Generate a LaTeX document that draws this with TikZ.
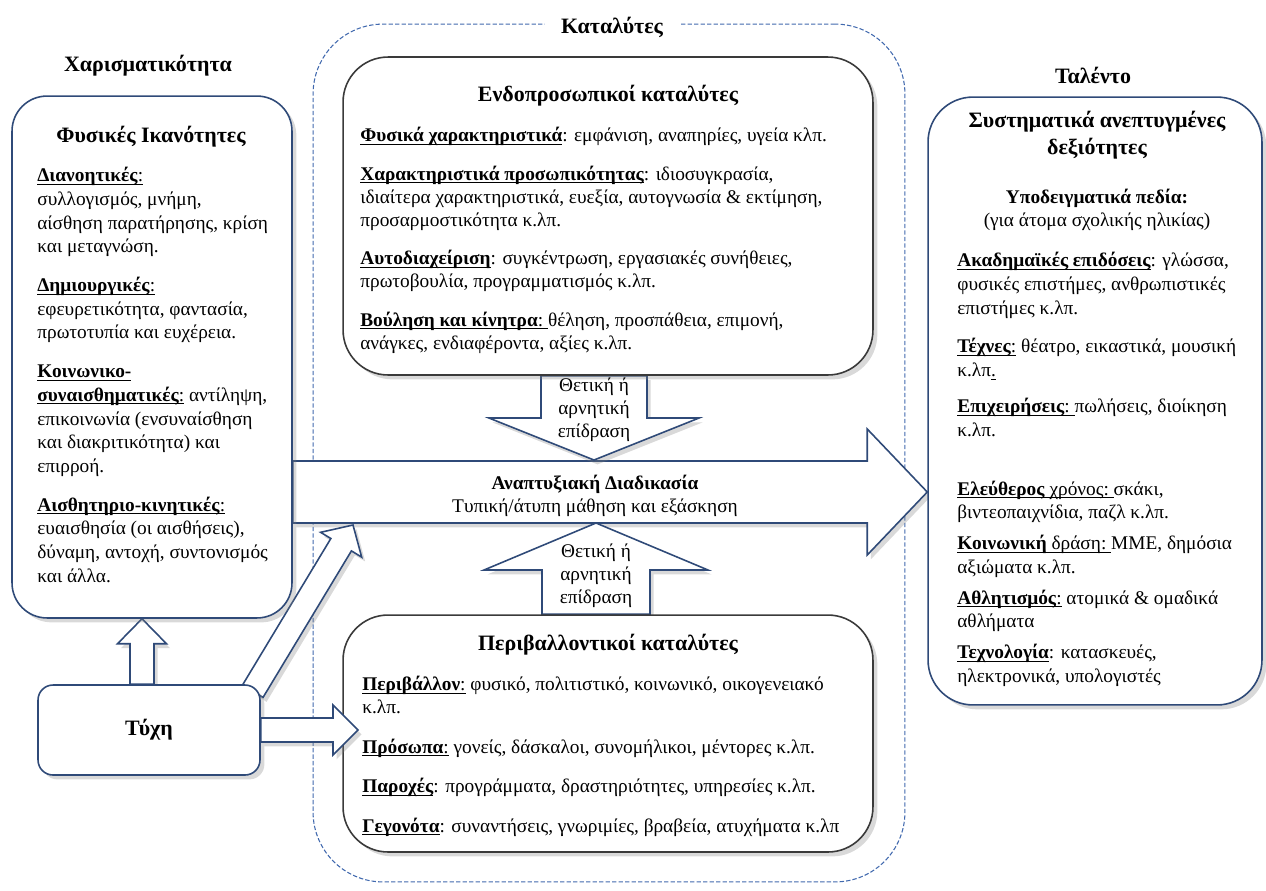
\documentclass[tikz,border=0pt]{standalone}
\usepackage{fontspec}
\setmainfont{Liberation Serif}
\usetikzlibrary{calc,shadows}

\definecolor{boxblue}{HTML}{2F4A78}
\definecolor{dashblue}{HTML}{4169AE}
\definecolor{innerline}{HTML}{3A3A3A}

% underline that goes through descenders, as in the source
\newsavebox{\undlbox}
\newcommand{\undl}[1]{\sbox{\undlbox}{#1}\rlap{\rule[-1.7pt]{\wd\undlbox}{0.5pt}}\usebox{\undlbox}}

\pgfdeclarelayer{back}
\pgfdeclarelayer{arrowlayer}
\pgfsetlayers{back,arrowlayer,main}

% wide outlined arrow: #1 start, #2 tip, #3 half shaft, #4 half head, #5 head length
\newcommand{\blockarrow}[5]{%
  \coordinate (ba) at ($(#2)!#5!(#1)$);
  \draw[blockarr] ($(#1)!#3!90:(#2)$) -- ($(ba)!#3!90:(#2)$) -- ($(ba)!#4!90:(#2)$)
    -- (#2) -- ($(ba)!#4!-90:(#2)$) -- ($(ba)!#3!-90:(#2)$)
    -- ($(#1)!#3!-90:(#2)$) -- cycle;}

\begin{document}
\begin{tikzpicture}[x=0.02cm, y=-0.02cm,
    roundbox/.style={draw=boxblue, line width=0.9pt, fill=white, rounded corners=#1,
      drop shadow={shadow xshift=2.5pt, shadow yshift=-2.5pt, opacity=0.3}},
    roundbox/.default=0.7cm,
    innerbox/.style={roundbox=0.9cm, draw=innerline},
    blockarr/.style={draw=boxblue, line width=0.9pt, fill=white,
      drop shadow={shadow xshift=2pt, shadow yshift=-2.5pt, opacity=0.3}},
    heading/.style={font=\fontsize{12.5}{15}\selectfont\bfseries, align=center, inner sep=0pt},
    body/.style={font=\fontsize{11}{13.5}\selectfont, align=left, inner sep=0pt, anchor=north west},
    effect/.style={font=\fontsize{11}{13}\selectfont, align=center, inner sep=0pt}]

  \useasboundingbox (0,0) rectangle (1266,890);

  % catalysts frame
  \begin{pgfonlayer}{back}
    \node[draw=dashblue, dash pattern=on 2.5pt off 1.2pt, line width=0.6pt, rounded corners=1.4cm,
          minimum width=11.84cm, minimum height=17.16cm] (catalysts) at (609,453) {};
    \node[heading, fill=white, inner xsep=9pt, inner ysep=2pt] (catlabel) at (612,27) {Καταλύτες};
  \end{pgfonlayer}

  % boxes
  \node[roundbox, minimum width=5.6cm, minimum height=10.44cm] (gifted) at (152,357) {};
  \node[roundbox=0.3cm, minimum width=4.44cm, minimum height=1.8cm, heading] (chance) at (149,730) {Τύχη};
  \node[innerbox, minimum width=10.6cm, minimum height=6.36cm] (intra) at (608,216) {};
  \node[innerbox, minimum width=10.6cm, minimum height=4.74cm] (env) at (608,733.5) {};
  \node[roundbox=0.9cm, minimum width=6.68cm, minimum height=12.16cm] (talent) at (1095,401) {};

  % arrow ends
  \coordinate (dev-s) at (gifted.east |- 0,492);
  \coordinate (dev-t) at (talent.west |- 0,492);
  \coordinate (eff1-s) at (intra.south -| 594,0);
  \coordinate (eff1-t) at (594,460);
  \coordinate (eff2-s) at (env.north -| 596,0);
  \coordinate (eff2-t) at (596,523);
  \coordinate (up-s) at (chance.north -| 142,0);
  \coordinate (up-t) at (gifted.south -| 142,0);
  \coordinate (right-s) at (chance.east);
  \coordinate (right-t) at (358,730);
  \coordinate (diag-s) at ($(chance.north east)+(-8,7)$);
  \coordinate (diag-t) at (353,525);

  \begin{pgfonlayer}{arrowlayer}
    \blockarrow{dev-s}{dev-t}{0.62cm}{1.26cm}{1.2cm}
    \blockarrow{eff1-s}{eff1-t}{1.06cm}{2.1cm}{0.84cm}
    \blockarrow{eff2-s}{eff2-t}{1.08cm}{2.24cm}{0.94cm}
    \blockarrow{up-s}{up-t}{0.24cm}{0.49cm}{0.5cm}
    \blockarrow{diag-s}{diag-t}{0.24cm}{0.48cm}{0.46cm}
  \end{pgfonlayer}
  \blockarrow{right-s}{right-t}{0.24cm}{0.5cm}{0.5cm}

  % left side
  \node[heading] (giftedtitle) at (148,66) {Χαρισματικότητα};
  \node[heading] (physab) at (151,137) {Φυσικές Ικανότητες};
  \node[body] (physlist) at (37,167) {%
    \undl{\textbf{Διανοητικές}:}\\
    συλλογισμός, μνήμη,\\
    αίσθηση παρατήρησης, κρίση\\
    και μεταγνώση.\\[8.5pt]
    \undl{\textbf{Δημιουργικές}:}\\
    εφευρετικότητα, φαντασία,\\
    πρωτοτυπία και ευχέρεια.\\[8.5pt]
    \undl{\textbf{Κοινωνικο-}}\\
    \undl{\textbf{συναισθηματικές}:} αντίληψη,\\
    επικοινωνία (ενσυναίσθηση\\
    και διακριτικότητα) και\\
    επιρροή.\\[8.5pt]
    \undl{\textbf{Αισθητηριο-κινητικές}:}\\
    ευαισθησία (οι αισθήσεις),\\
    δύναμη, αντοχή, συντονισμός\\
    και άλλα.};

  % centre
  \node[heading] (intratitle) at (608,96) {Ενδοπροσωπικοί καταλύτες};
  \node[body, font=\fontsize{11}{13}\selectfont] (intralist) at (360,127) {%
    \undl{\textbf{Φυσικά χαρακτηριστικά}}: εμφάνιση, αναπηρίες, υγεία κλπ.\\[9pt]
    \undl{\textbf{Χαρακτηριστικά προσωπικότητας}}: ιδιοσυγκρασία,\\
    ιδιαίτερα χαρακτηριστικά, ευεξία, αυτογνωσία \& εκτίμηση,\\
    προσαρμοστικότητα κ.λπ.\\[9pt]
    \undl{\textbf{Αυτοδιαχείριση}}: συγκέντρωση, εργασιακές συνήθειες,\\
    πρωτοβουλία, προγραμματισμός κ.λπ.\\[9pt]
    \undl{\textbf{Βούληση και κίνητρα}:\ }θέληση, προσπάθεια, επιμονή,\\
    ανάγκες, ενδιαφέροντα, αξίες κ.λπ.};

  \node[effect] (eff1text) at (594,410) {Θετική ή\\αρνητική\\επίδραση};
  \node[effect] (eff2text) at (596,576) {Θετική ή\\αρνητική\\επίδραση};
  \node[effect] (devtext) at (595,496) {\textbf{Αναπτυξιακή Διαδικασία}\\Τυπική/άτυπη μάθηση και εξάσκηση};

  \node[heading] (envtitle) at (608,645) {Περιβαλλοντικοί καταλύτες};
  \node[body, font=\fontsize{11}{13}\selectfont] (envlist) at (362,676) {%
    \undl{\textbf{Περιβάλλον}:} φυσικό, πολιτιστικό, κοινωνικό, οικογενειακό\\
    κ.λπ.\\[9.5pt]
    \undl{\textbf{Πρόσωπα}:} γονείς, δάσκαλοι, συνομήλικοι, μέντορες κ.λπ.\\[9.5pt]
    \undl{\textbf{Παροχές}}: προγράμματα, δραστηριότητες, υπηρεσίες κ.λπ.\\[9.5pt]
    \undl{\textbf{Γεγονότα}}: συναντήσεις, γνωριμίες, βραβεία, ατυχήματα κ.λπ};

  % right side
  \node[heading] (talenttitle) at (1093,75) {Ταλέντο};
  \node[heading] (skills) at (1097,135) {Συστηματικά ανεπτυγμένες\\δεξιότητες};
  \node[effect] (fields) at (1097,210) {\textbf{Υποδειγματικά πεδία:}\\(για άτομα σχολικής ηλικίας)};
  \node[body] (fieldlist) at (957,252) {%
    \undl{\textbf{Ακαδημαϊκές επιδόσεις}}: γλώσσα,\\
    φυσικές επιστήμες, ανθρωπιστικές\\
    επιστήμες κ.λπ.\\[8.5pt]
    \undl{\textbf{Τέχνες}:} θέατρο, εικαστικά, μουσική\\
    κ.λπ\undl{.}\\[7pt]
    \undl{\textbf{Επιχειρήσεις}:\ }πωλήσεις, διοίκηση\\
    κ.λπ.\\[20pt]
    \undl{\textbf{Ελεύθερος} χρόνος:\ }σκάκι,\\
    βιντεοπαιχνίδια, παζλ κ.λπ.\\[4pt]
    \undl{\textbf{Κοινωνική} δράση:\ }ΜΜΕ, δημόσια\\
    αξιώματα κ.λπ.\\[4pt]
    \undl{\textbf{Αθλητισμός}:} ατομικά \& ομαδικά\\
    αθλήματα\\[4pt]
    \undl{\textbf{Τεχνολογία}}: κατασκευές,\\
    ηλεκτρονικά, υπολογιστές};
\end{tikzpicture}
\end{document}
